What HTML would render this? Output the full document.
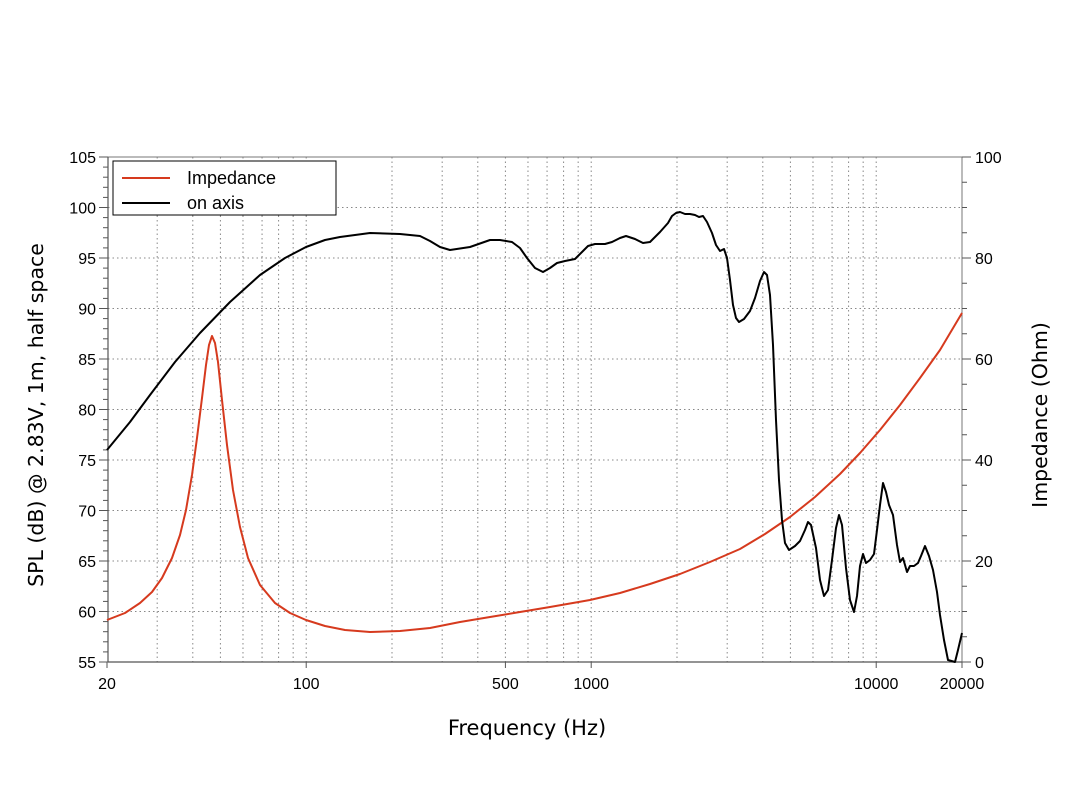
<!DOCTYPE html>
<html><head><meta charset="utf-8"><style>
html,body{margin:0;padding:0;background:#fff;}
svg{display:block;}
text{font-family:"Liberation Sans",Arial,sans-serif;fill:#000;}
</style></head><body>
<svg id="s" width="1073" height="805" viewBox="0 0 1073 805" xmlns="http://www.w3.org/2000/svg">
<g id="grid"></g>
<rect x="108" y="157" width="854" height="505" fill="none" stroke="#777" stroke-width="1"/>
<line x1="108" y1="157" x2="108" y2="662" stroke="#555" stroke-width="1.2"/>
<line x1="108" y1="662" x2="962" y2="662" stroke="#555" stroke-width="1.2"/>
<g id="ticks" stroke="#555" stroke-width="1"></g>
<g id="labels" font-size="16"></g>
<polyline fill="none" stroke="#d63a1e" stroke-width="2" stroke-linejoin="round" points="107,620 125,613 140,603 152,592 162,578 172,558 180,535 186,510 192,475 197,438 202,398 206,365 209,345 212,336 215,343 218,362 222,400 227,445 233,490 240,527 248,558 260,585 275,603 290,613 306,620 325,626 345,630 370,632 400,631 430,628 460,622 490,617 520,612 550,607 590,600 620,593 650,584 680,574 710,562 740,549 765,534 790,517 815,497 840,474 860,453 880,430 900,405 920,378 940,350 962,313"/>
<polyline fill="none" stroke="#000" stroke-width="2" stroke-linejoin="round" points="107,450 130,422 150,395 175,362 200,333 230,302 260,275 285,258 306,247 325,240 340,237 370,233 400,234 420,236 430,241 440,247 450,250 470,247 490,240 500,240 512,242 520,248 527,258 535,268 543,272 550,268 557,263 565,261 575,259 582,252 588,246 595,244 605,244 612,242 620,238 626,236 635,239 643,243 650,242 660,232 668,223 672,216 676,213 680,212 685,214 690,214 695,215 699,217 703,216 707,222 712,233 716,245 720,251 724,249 727,258 730,280 733,305 736,318 739,322 744,319 750,311 755,298 760,281 764,272 767,275 770,295 773,345 776,420 779,480 782,520 785,543 789,550 795,546 800,541 805,530 808,522 811,525 816,548 820,580 824,596 828,590 832,560 836,528 839,515 842,525 846,568 850,600 854,612 857,596 860,566 863,554 866,563 870,560 874,554 877,530 880,505 883,483 886,492 889,505 893,515 897,545 900,562 903,558 907,572 910,566 914,566 918,563 921,556 925,546 929,556 933,570 937,592 940,615 944,640 948,660 955,662 958,650 962,633"/>
<rect x="113" y="161" width="223" height="54" fill="#fff" stroke="#000" stroke-width="1"/>
<line x1="122" y1="178" x2="170" y2="178" stroke="#d63a1e" stroke-width="2"/>
<line x1="122" y1="203" x2="170" y2="203" stroke="#000" stroke-width="2"/>
<text x="187" y="184" font-size="18">Impedance</text>
<text x="187" y="209" font-size="18">on axis</text>
<text x="527" y="735" font-size="21" text-anchor="middle" style="font-family:'DejaVu Sans',sans-serif">Frequency (Hz)</text>
<text transform="translate(43,415) rotate(-90)" font-size="20.5" text-anchor="middle" style="font-family:'DejaVu Sans',sans-serif">SPL (dB) @ 2.83V, 1m, half space</text>
<text transform="translate(1047,415) rotate(-90)" font-size="20.5" text-anchor="middle" style="font-family:'DejaVu Sans',sans-serif">Impedance (Ohm)</text>
</svg>
<script>
var NS="http://www.w3.org/2000/svg";
function el(p,t,a,txt){var e=document.createElementNS(NS,t);for(var k in a)e.setAttribute(k,a[k]);if(txt!=null)e.textContent=txt;p.appendChild(e);return e;}
var g=document.getElementById('grid'),tk=document.getElementById('ticks'),lb=document.getElementById('labels');
function X(f){return 107+285*(Math.log10(f)-Math.log10(20));}
var fs=[];for(var d=10;d<=10000;d*=10)for(var m=1;m<10;m++){var f=m*d;if(f>20&&f<20000)fs.push(f);}
fs.forEach(function(f){var x=X(f);el(g,'line',{x1:x,y1:157,x2:x,y2:662,stroke:'#888','stroke-width':1,'stroke-dasharray':'1.5,3'});});
for(var v=60;v<=100;v+=5){var y=662-(v-55)*10.1;el(g,'line',{x1:108,y1:y,x2:962,y2:y,stroke:'#888','stroke-width':1,'stroke-dasharray':'1.5,3'});}
for(var v=55;v<=105;v++){var y=662-(v-55)*10.1;var maj=v%5==0;el(tk,'line',{x1:maj?99:103,y1:y,x2:108,y2:y});if(maj)el(lb,'text',{x:96,y:y+6,'text-anchor':'end'},v);}
for(var z=0;z<=100;z+=5){var y=662-z*5.05;var maj=z%20==0;el(tk,'line',{x1:962,y1:y,x2:maj?971:967,y2:y});if(maj)el(lb,'text',{x:975,y:y+6},z);}
[[20,'20'],[100,'100'],[500,'500'],[1000,'1000'],[10000,'10000'],[20000,'20000']].forEach(function(p){var x=X(p[0]);el(tk,'line',{x1:x,y1:662,x2:x,y2:668});el(lb,'text',{x:x,y:689,'text-anchor':'middle'},p[1]);});
</script>
</body></html>
